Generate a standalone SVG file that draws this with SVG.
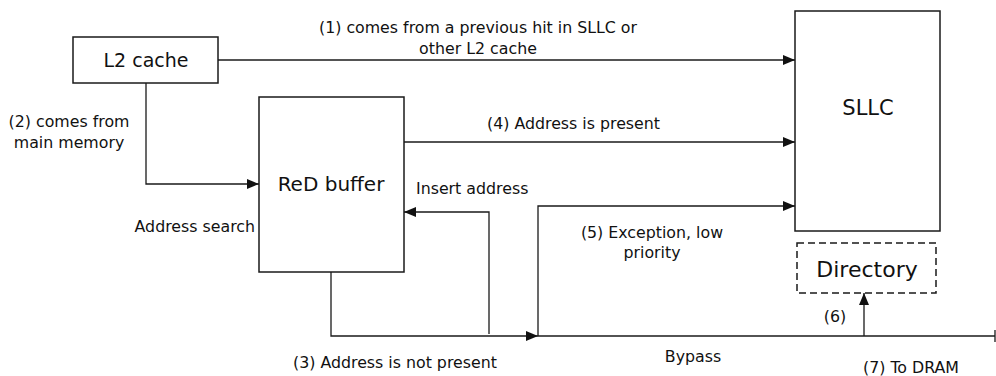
<svg xmlns="http://www.w3.org/2000/svg" width="996" height="376" viewBox="0 0 996 376">
  <style>
    .box { fill: #ffffff; stroke: #1a1a1a; stroke-width: 1.5; }
    .dash { fill: #ffffff; stroke: #1a1a1a; stroke-width: 1.5; stroke-dasharray: 7 4; }
    .wire { fill: none; stroke: #1a1a1a; stroke-width: 1.3; }
    .big { font-family: "DejaVu Sans", Verdana, sans-serif; font-size: 19px; fill: #111; text-anchor: middle; }
    .lbl { font-family: "DejaVu Sans", Verdana, sans-serif; font-size: 15.8px; fill: #111; }
    .mid { text-anchor: middle; }
    .end { text-anchor: end; }
  </style>
  <defs>
    <marker id="arrow" viewBox="0 0 12 10" refX="12" refY="5" markerWidth="12" markerHeight="10" markerUnits="userSpaceOnUse" orient="auto">
      <path d="M0,0 L12,5 L0,10 Z" fill="#111"/>
    </marker>
  </defs>

  <rect width="996" height="376" fill="#ffffff"/>

  <!-- connectors -->
  <g id="connectors">
    <!-- (1) L2 cache to SLLC -->
    <line class="wire" x1="218" y1="60" x2="795" y2="60" marker-end="url(#arrow)"/>
    <!-- (2) L2 cache down to ReD buffer -->
    <polyline class="wire" points="146,83 146,184 259,184" marker-end="url(#arrow)"/>
    <!-- (4) ReD buffer to SLLC -->
    <line class="wire" x1="404" y1="142" x2="795" y2="142" marker-end="url(#arrow)"/>
    <!-- insert address back into ReD buffer -->
    <polyline class="wire" points="489,334 489,212 404,212" marker-end="url(#arrow)"/>
    <!-- (3) ReD buffer down to the bypass line -->
    <polyline class="wire" points="331,272 331,336 538,336" marker-end="url(#arrow)"/>
    <!-- bypass line to DRAM -->
    <line class="wire" x1="538" y1="336" x2="995" y2="336"/>
    <line class="wire" x1="995" y1="330" x2="995" y2="342"/>
    <!-- (5) exception path to SLLC -->
    <polyline class="wire" points="538,336 538,206 795,206" marker-end="url(#arrow)"/>
    <!-- (6) bypass line to Directory -->
    <line class="wire" x1="864" y1="336" x2="864" y2="293" marker-end="url(#arrow)"/>
  </g>

  <!-- nodes -->
  <g id="l2-cache">
    <rect class="box" x="73" y="37" width="145" height="46"/>
    <text class="big" x="146" y="67">L2 cache</text>
  </g>
  <g id="red-buffer">
    <rect class="box" x="259" y="97" width="145" height="175"/>
    <text class="big" x="331" y="191" style="font-size:20px">ReD buffer</text>
  </g>
  <g id="sllc">
    <rect class="box" x="795" y="11" width="145" height="220"/>
    <text class="big" x="868" y="115" style="font-size:21px">SLLC</text>
  </g>
  <g id="directory">
    <rect class="dash" x="797" y="243" width="139" height="50"/>
    <text class="big" x="867" y="277" style="font-size:22px">Directory</text>
  </g>

  <!-- labels -->
  <g id="labels">
    <text class="lbl mid" x="478" y="33">(1) comes from a previous hit in SLLC or</text>
    <text class="lbl mid" x="478" y="54">other L2 cache</text>
    <text class="lbl mid" x="69" y="127">(2) comes from</text>
    <text class="lbl mid" x="69" y="148">main memory</text>
    <text class="lbl end" x="255" y="232">Address search</text>
    <text class="lbl" x="487" y="129">(4) Address is present</text>
    <text class="lbl" x="416" y="194">Insert address</text>
    <text class="lbl mid" x="652" y="238">(5) Exception, low</text>
    <text class="lbl mid" x="652" y="258">priority</text>
    <text class="lbl mid" x="835" y="322">(6)</text>
    <text class="lbl mid" x="693" y="362">Bypass</text>
    <text class="lbl" x="293" y="368">(3) Address is not present</text>
    <text class="lbl" x="863" y="373">(7) To DRAM</text>
  </g>
</svg>
